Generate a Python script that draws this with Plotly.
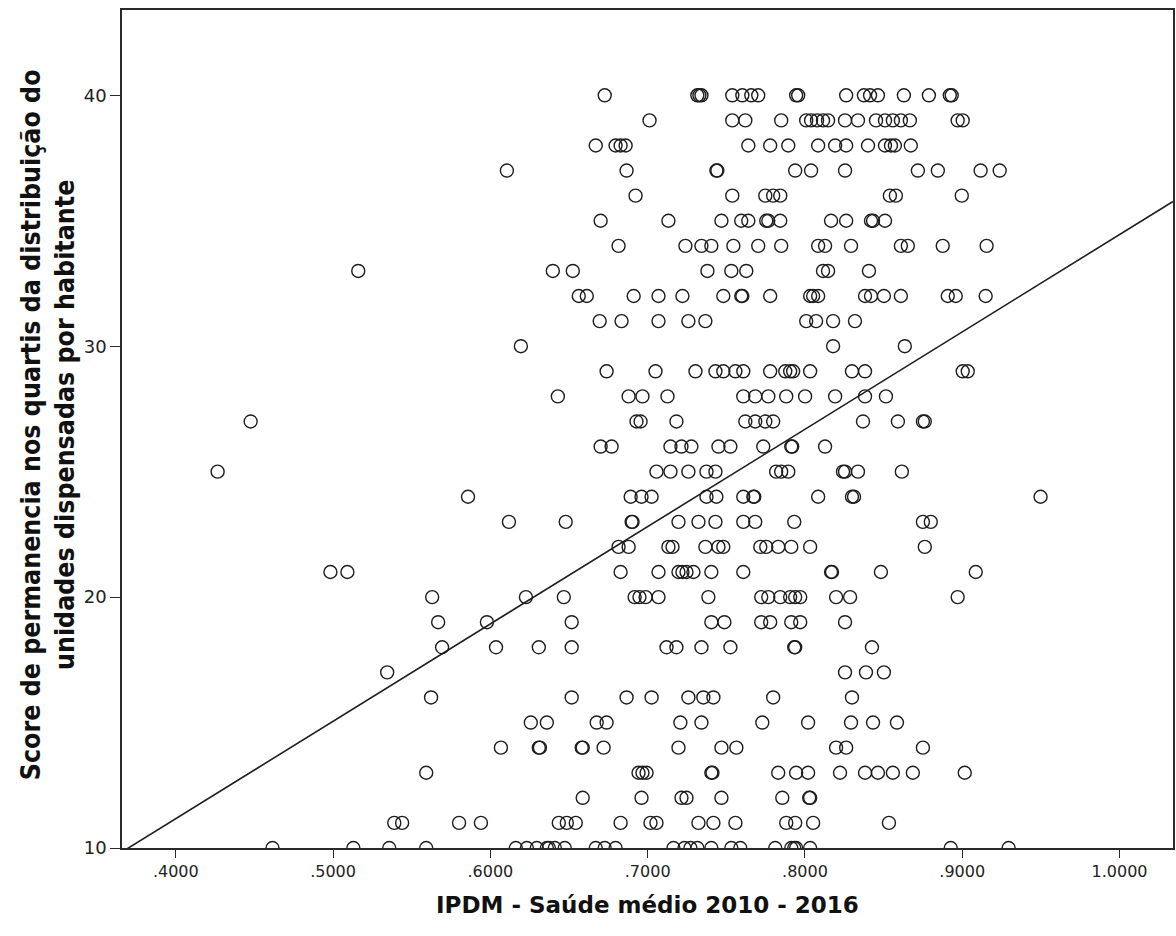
import plotly.graph_objects as go

# ---- data ----
score_levels = [40, 39, 38, 37, 36, 35, 34, 33, 32, 31, 30, 29, 28, 27, 26, 25,
                24, 23, 22, 21, 20, 19, 18, 17, 16, 15, 14, 13, 12, 11, 10]

ipdm_by_level = [
    [.6727, .7316, .7329, .7342, .7538, .7602, .7659, .7703, .7944, .7957, .8262, .8375, .8414, .8464, .8629, .8788, .8921, .8933],  # 40
    [.7012, .7538, .7621, .7849, .8008, .8039, .8077, .8115, .8147, .8255, .8337, .8452, .8509, .8559, .8610, .8667, .8971, .9003],  # 39
    [.6670, .6796, .6828, .6860, .7640, .7779, .7894, .8084, .8192, .8262, .8401, .8509, .8547, .8572, .8673],  # 38
    [.6105, .6866, .7437, .7443, .7938, .8039, .8255, .8718, .8845, .9117, .9238],  # 37
    [.6923, .7538, .7748, .7798, .7843, .8540, .8578, .8997],  # 36
    [.6701, .7132, .7469, .7595, .7640, .7754, .7767, .7843, .8166, .8262, .8420, .8433, .8509],  # 35
    [.6815, .7240, .7342, .7405, .7545, .7703, .7849, .8084, .8128, .8293, .8610, .8654, .8876, .9155],  # 34
    [.5160, .6397, .6524, .7380, .7532, .7627, .8115, .8147, .8407],  # 33
    [.6562, .6613, .6911, .7069, .7221, .7481, .7595, .7602, .7779, .8033, .8052, .8084, .8382, .8420, .8502, .8610, .8908, .8959, .9149],  # 32
    [.6695, .6834, .7069, .7259, .7367, .8008, .8071, .8179, .8318],  # 31
    [.6194, .8179, .8635],  # 30
    [.6739, .7050, .7304, .7431, .7481, .7558, .7608, .7779, .7875, .7906, .7925, .8033, .8299, .8382, .9003, .9035],  # 29
    [.6429, .6879, .6967, .7126, .7608, .7684, .7767, .7881, .8001, .8192, .8382, .8515],  # 28
    [.4476, .6929, .6955, .7183, .7621, .7684, .7748, .7798, .8369, .8591, .8750, .8762],  # 27
    [.6701, .6771, .7145, .7215, .7278, .7450, .7526, .7735, .7913, .7919, .8128],  # 26
    [.4266, .7056, .7145, .7259, .7374, .7431, .7817, .7849, .7894, .8242, .8255, .8337, .8616],  # 25
    [.5858, .6892, .6961, .7025, .7374, .7437, .7608, .7672, .7678, .8084, .8299, .8312, .9498],  # 24
    [.6118, .6479, .6898, .6904, .7196, .7323, .7431, .7608, .7684, .7932, .8750, .8800],  # 23
    [.6815, .6879, .7132, .7158, .7367, .7450, .7481, .7716, .7754, .7830, .7913, .8033, .8762],  # 22
    [.4983, .5091, .6828, .7069, .7196, .7221, .7247, .7291, .7405, .7608, .8166, .8172, .8483, .9086],  # 21
    [.5630, .6226, .6467, .6917, .6948, .6987, .7069, .7386, .7722, .7767, .7843, .7906, .7938, .7970, .8198, .8287, .8971],  # 20
    [.5668, .5978, .6517, .7405, .7488, .7722, .7779, .7913, .7970, .8255],  # 19
    [.5693, .6036, .6308, .6517, .7120, .7183, .7342, .7526, .7932, .7938, .8426],  # 18
    [.5344, .8255, .8388, .8502],  # 17
    [.5623, .6517, .6866, .7025, .7259, .7354, .7418, .7798, .8299],  # 16
    [.6257, .6359, .6676, .6739, .7208, .7342, .7729, .8020, .8293, .8433, .8585],  # 15
    [.6067, .6308, .6315, .6581, .6587, .6720, .7196, .7469, .7564, .8198, .8262, .8750],  # 14
    [.5592, .6942, .6967, .6993, .7405, .7412, .7830, .7944, .8020, .8223, .8382, .8464, .8559, .8686, .9016],  # 13
    [.6587, .6961, .7215, .7247, .7469, .7856, .8027, .8033],  # 12
    [.5389, .5439, .5801, .5940, .6435, .6486, .6543, .6828, .7018, .7056, .7323, .7418, .7558, .7881, .7938, .8052, .8534],  # 11
    [.4615, .5129, .5357, .5592, .6162, .6232, .6295, .6359, .6372, .6410, .6473, .6670, .6727, .6796, .7164, .7234,
     .7272, .7316, .7405, .7532, .7589, .7811, .7913, .7932, .7944, .8033, .8927, .9295],  # 10
]

# fitted line
line_intercept = -4.35
line_slope = 38.8

x_tickvals = [0.4, 0.5, 0.6, 0.7, 0.8, 0.9, 1.0]
x_ticktext = [".4000", ".5000", ".6000", ".7000", ".8000", ".9000", "1.0000"]
y_tickvals = [10, 20, 30, 40]
x_range = [0.3658, 1.034]
y_range = [10, 43.4]

x_title = "IPDM - Saúde médio 2010 - 2016"
y_title = "Score de permanencia nos quartis da distribuição do<br>unidades dispensadas por habitante"

# ---- build ----
xs, ys = [], []
for lvl, vals in zip(score_levels, ipdm_by_level):
    for v in vals:
        xs.append(v)
        ys.append(lvl)

fig = go.Figure()
fig.add_trace(go.Scatter(
    x=xs, y=ys, mode="markers",
    marker=dict(symbol="circle-open", size=13, color="#1e1e1e", line=dict(width=1.4)),
    hoverinfo="x+y", showlegend=False,
))
fig.add_trace(go.Scatter(
    x=x_range, y=[line_intercept + line_slope * v for v in x_range],
    mode="lines", line=dict(color="#1e1e1e", width=1.6),
    hoverinfo="skip", showlegend=False,
))

axis_common = dict(showgrid=False, zeroline=False, showline=True, linecolor="#2a2a2a",
                   linewidth=1.5, mirror=True, ticks="outside", tickcolor="#2a2a2a", tickwidth=1.3)

fig.update_layout(
    width=1176, height=936,
    margin=dict(l=122, r=1, t=10, b=88),
    paper_bgcolor="white", plot_bgcolor="white",
    xaxis=dict(range=x_range, tickvals=x_tickvals, ticktext=x_ticktext, ticklen=8,
               tickfont=dict(family="DejaVu Sans", size=16, color="#222"), **axis_common),
    yaxis=dict(range=y_range, tickvals=y_tickvals, ticklen=10,
               tickfont=dict(family="DejaVu Sans", size=18, color="#222"), **axis_common),
    annotations=[
        dict(text=x_title, xref="paper", yref="paper", x=0.5, y=-0.068,
             xanchor="center", yanchor="middle", showarrow=False,
             font=dict(family="DejaVu Sans", size=23, color="#111", weight="bold")),
        dict(text=y_title, xref="paper", yref="paper", x=-0.071, y=0.505,
             xanchor="center", yanchor="middle", showarrow=False, textangle=-90,
             font=dict(family="DejaVu Sans Condensed, Liberation Sans",
                       size=26.5, color="#111", weight="bold")),
    ],
)

fig.write_html("out.html")
